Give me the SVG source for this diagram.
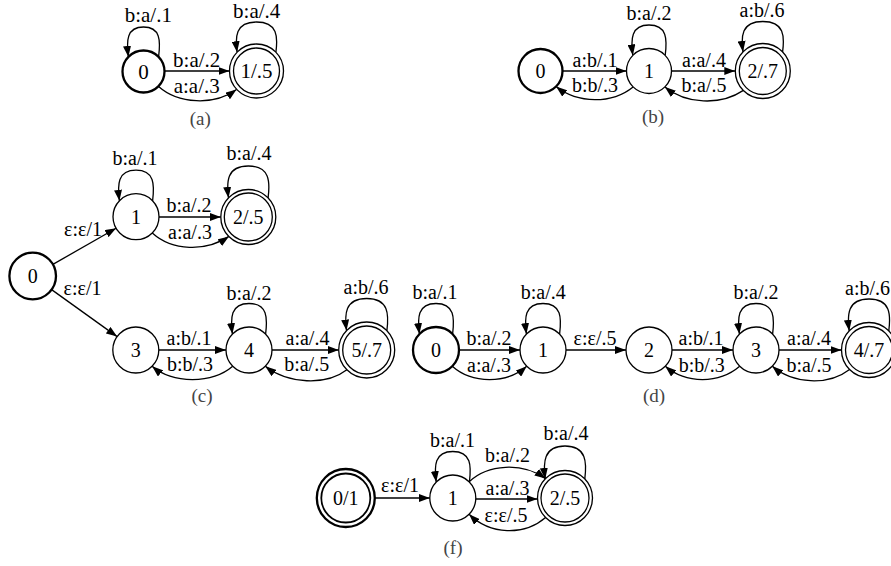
<svg xmlns="http://www.w3.org/2000/svg" width="891" height="566" viewBox="0 0 891 566">
<style>
.n{fill:#fff;stroke:#000;stroke-width:1.3}
.b{stroke-width:2.3}
.t{font-family:'Liberation Serif','Times New Roman',Times,serif;font-size:20px;text-anchor:middle;fill:#000}
.ta{font-size:21px}
.e{fill:none;stroke:#000;stroke-width:1.3;marker-end:url(#ah)}
.cap{font-family:'Liberation Serif','Times New Roman',Times,serif;font-size:19px;fill:#444;text-anchor:middle}
</style>
<defs>
<marker id="ah" viewBox="0 0 11 8" refX="11" refY="4" markerWidth="11" markerHeight="8" markerUnits="userSpaceOnUse" orient="auto"><path d="M0,0 L11,4 L0,8 z" fill="#000"/></marker>
</defs>
<rect width="891" height="566" fill="#fff"/>

<g id="connectors">
<path class="e" d="M158.6,56.9 C160.6,40.9 160.6,27 143.5,27 C126.4,27 126.4,40.9 128.4,56.9"/>
<path class="e" d="M275.9,52.2 C277.9,37.2 277.9,22 256.5,22 C235.1,22 235.1,37.2 237.1,52.2"/>
<path class="e" d="M164.5,71 L229.5,71"/>
<path class="e" d="M158.3,86.3 C178,104 214,106 236.5,89.5"/>
<path class="e" d="M562.5,71 L626.5,71"/>
<path class="e" d="M633.1,86.9 C612,104 578,104 556.1,86.6"/>
<path class="e" d="M671.5,71 L735.3,71"/>
<path class="e" d="M743.4,90.4 C720,106 686,104 664.9,86.9"/>
<path class="e" d="M665.2,55.4 C667.2,39.4 667.2,25 649,25 C630.8,25 630.8,39.4 632.8,55.4"/>
<path class="e" d="M782.6,51.9 C784.6,36.9 784.6,21.5 762.8,21.5 C741,21.5 741,36.9 743,51.9"/>
<path class="e" d="M52.9,264.4 L116.1,228.2"/>
<path class="e" d="M51.6,289.6 L117.1,336.6"/>
<path class="e" d="M159,217 L220.8,217"/>
<path class="e" d="M152.3,233 C172,251 206,252 228.9,236.4"/>
<path class="e" d="M152.6,200.8 C154.6,184.8 154.6,170.2 136,170.2 C117.4,170.2 117.4,184.8 119.4,200.8"/>
<path class="e" d="M268.1,197.9 C270.1,181.9 270.1,166 248.3,166 C226.5,166 226.5,181.9 228.5,197.9"/>
<path class="e" d="M158.8,350 L226,350"/>
<path class="e" d="M232.7,366.3 C212,384 173,384 152.1,366.3"/>
<path class="e" d="M272,350 L338.7,350"/>
<path class="e" d="M346.9,369.8 C326,386 288,384 265.3,366.3"/>
<path class="e" d="M265.6,334.1 C267.6,318.1 267.6,303.5 249,303.5 C230.4,303.5 230.4,318.1 232.4,334.1"/>
<path class="e" d="M386.9,330.6 C388.9,314.6 388.9,298.5 366.7,298.5 C344.5,298.5 344.5,314.6 346.5,330.6"/>
<path class="e" d="M459,350 L520,350"/>
<path class="e" d="M452.3,366.3 C472,384 507,384 526.7,366.3"/>
<path class="e" d="M452.6,334.1 C454.6,318.1 454.6,303.5 436,303.5 C417.4,303.5 417.4,318.1 419.4,334.1"/>
<path class="e" d="M559.6,334.1 C561.6,318.1 561.6,303.5 543,303.5 C524.4,303.5 524.4,318.1 526.4,334.1"/>
<path class="e" d="M566,350 L626,350"/>
<path class="e" d="M672,350 L733,350"/>
<path class="e" d="M739.7,366.3 C719,384 686,384 665.3,366.3"/>
<path class="e" d="M779,350 L841.5,350"/>
<path class="e" d="M849.6,369.4 C828,386 793,384 772.3,366.3"/>
<path class="e" d="M772.6,334.1 C774.6,318.1 774.6,303.5 756,303.5 C737.4,303.5 737.4,318.1 739.4,334.1"/>
<path class="e" d="M888.8,330.9 C890.8,314.9 890.8,299 869,299 C847.2,299 847.2,314.9 849.2,330.9"/>
<path class="e" d="M375,498 L429.8,498"/>
<path class="e" d="M469.1,481.7 C488,464 522,462 545.6,478.6"/>
<path class="e" d="M475.8,499 L537.5,499"/>
<path class="e" d="M545.6,517.4 C524,536 490,535 469.1,514.3"/>
<path class="e" d="M469.4,482.1 C471.4,466.1 471.4,451.5 452.8,451.5 C434.2,451.5 434.2,466.1 436.2,482.1"/>
<path class="e" d="M584.8,478.9 C586.8,462.9 586.8,446 565,446 C543.2,446 543.2,462.9 545.2,478.9"/>
</g>

<g id="edge-labels">
<text class="t ta" x="148.3" y="21.5">b:a/.1</text>
<text class="t ta" x="256.7" y="17.5">b:a/.4</text>
<text class="t ta" x="196.7" y="67">b:a/.2</text>
<text class="t ta" x="196.7" y="93">a:a/.3</text>

<text class="t" x="595" y="67">a:b/.1</text>
<text class="t" x="595" y="92">b:b/.3</text>
<text class="t" x="704" y="67">a:a/.4</text>
<text class="t" x="704" y="92">b:a/.5</text>
<text class="t" x="649" y="20">b:a/.2</text>
<text class="t" x="762" y="17">a:b/.6</text>

<text class="t" x="83" y="236">ε:ε/1</text>
<text class="t" x="82.5" y="295">ε:ε/1</text>
<text class="t" x="189" y="212">b:a/.2</text>
<text class="t" x="190" y="238.5">a:a/.3</text>
<text class="t" x="135" y="165">b:a/.1</text>
<text class="t" x="249" y="160">b:a/.4</text>
<text class="t" x="189" y="345">a:b/.1</text>
<text class="t" x="190" y="371">b:b/.3</text>
<text class="t" x="307.5" y="345">a:a/.4</text>
<text class="t" x="306.7" y="371">b:a/.5</text>
<text class="t" x="249" y="299.5">b:a/.2</text>
<text class="t" x="366" y="294">a:b/.6</text>

<text class="t" x="489" y="345">b:a/.2</text>
<text class="t" x="489" y="371.5">a:a/.3</text>
<text class="t" x="435" y="299">b:a/.1</text>
<text class="t" x="543.3" y="299">b:a/.4</text>
<text class="t" x="595" y="345">ε:ε/.5</text>
<text class="t" x="701" y="345">a:b/.1</text>
<text class="t" x="701.7" y="371.5">b:b/.3</text>
<text class="t" x="809" y="345">a:a/.4</text>
<text class="t" x="809" y="371.5">b:a/.5</text>
<text class="t" x="756" y="299">b:a/.2</text>
<text class="t" x="867.5" y="294.5">a:b/.6</text>

<text class="t" x="400" y="492">ε:ε/1</text>
<text class="t" x="507.5" y="462">b:a/.2</text>
<text class="t" x="507.5" y="495">a:a/.3</text>
<text class="t" x="506" y="522">ε:ε/.5</text>
<text class="t" x="452.5" y="446.5">b:a/.1</text>
<text class="t" x="566" y="440">b:a/.4</text>
</g>

<g id="a-0"><circle class="n b" cx="143.5" cy="71.5" r="21"/><text class="t ta" x="143.5" y="78.5">0</text></g>
<g id="a-1"><circle class="n" cx="256.5" cy="71" r="27"/><circle class="n" cx="256.5" cy="71" r="23"/><text class="t ta" x="256.5" y="78">1/.5</text></g>

<g id="b-0"><circle class="n b" cx="540.5" cy="71" r="22"/><text class="t" x="540.5" y="78">0</text></g>
<g id="b-1"><circle class="n" cx="649" cy="71" r="22.5"/><text class="t" x="649" y="78">1</text></g>
<g id="b-2"><circle class="n" cx="762.8" cy="71" r="27.5"/><circle class="n" cx="762.8" cy="71" r="23.5"/><text class="t" x="762.8" y="78">2/.7</text></g>

<g id="c-0"><circle class="n b" cx="32.7" cy="276" r="23.3"/><text class="t" x="32.7" y="283">0</text></g>
<g id="c-1"><circle class="n" cx="136" cy="216.7" r="23"/><text class="t" x="136" y="223.7">1</text></g>
<g id="c-2"><circle class="n" cx="248.3" cy="217" r="27.5"/><circle class="n" cx="248.3" cy="217" r="24"/><text class="t" x="248.3" y="224">2/.5</text></g>
<g id="c-3"><circle class="n" cx="135.8" cy="350" r="23"/><text class="t" x="135.8" y="357">3</text></g>
<g id="c-4"><circle class="n" cx="249" cy="350" r="23"/><text class="t" x="249" y="357">4</text></g>
<g id="c-5"><circle class="n" cx="366.7" cy="350" r="28"/><circle class="n" cx="366.7" cy="350" r="24"/><text class="t" x="366.7" y="357">5/.7</text></g>

<g id="d-0"><circle class="n b" cx="436" cy="350" r="23"/><text class="t" x="436" y="357">0</text></g>
<g id="d-1"><circle class="n" cx="543" cy="350" r="23"/><text class="t" x="543" y="357">1</text></g>
<g id="d-2"><circle class="n" cx="649" cy="350" r="23"/><text class="t" x="649" y="357">2</text></g>
<g id="d-3"><circle class="n" cx="756" cy="350" r="23"/><text class="t" x="756" y="357">3</text></g>
<g id="d-4"><circle class="n" cx="869" cy="350" r="27.5"/><circle class="n" cx="869" cy="350" r="23.5"/><text class="t" x="869" y="357">4/.7</text></g>

<g id="f-0"><circle class="n b" cx="345.8" cy="498" r="29"/><circle class="n" style="stroke-width:1.8" cx="345.8" cy="498" r="24.5"/><text class="t" x="345.8" y="505">0/1</text></g>
<g id="f-1"><circle class="n" cx="452.8" cy="498" r="23"/><text class="t" x="452.8" y="505">1</text></g>
<g id="f-2"><circle class="n" cx="565" cy="498" r="27.5"/><circle class="n" cx="565" cy="498" r="24"/><text class="t" x="565" y="505">2/.5</text></g>

<g id="captions">
<text class="cap" x="200.3" y="125">(a)</text>
<text class="cap" x="653" y="123">(b)</text>
<text class="cap" x="202" y="402">(c)</text>
<text class="cap" x="654" y="402">(d)</text>
<text class="cap" x="453" y="554">(f)</text>
</g>
</svg>
